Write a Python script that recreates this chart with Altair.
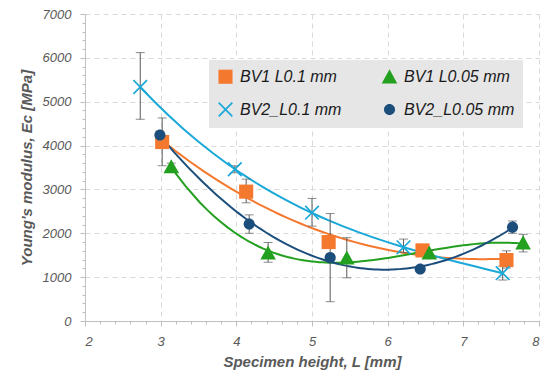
import altair as alt
import pandas as pd

series_names = ["BV1 L0.1 mm", "BV1 L0.05 mm", "BV2_L0.1 mm", "BV2_L0.05 mm"]
legend_order = ["BV1 L0.1 mm", "BV2_L0.1 mm", "BV1 L0.05 mm", "BV2_L0.05 mm"]

# BV1 L0.1 mm
s1_L = [3.02, 4.13, 5.22, 6.46, 7.57]
s1_E = [4080, 2950, 1800, 1610, 1390]
s1_lo = [3540, 2695, 1700, 1540, 1207]
s1_hi = [4630, 3235, 1900, 1680, 1600]
# BV1 L0.05 mm
s2_L = [3.14, 4.42, 5.46, 6.55, 7.79]
s2_E = [3510, 1545, 1430, 1545, 1775]
s2_lo = [3420, 1340, 985, 1470, 1575]
s2_hi = [3600, 1790, 1900, 1620, 1975]
# BV2_L0.1 mm
s3_L = [2.73, 3.98, 5.00, 6.21, 7.52]
s3_E = [5335, 3460, 2470, 1680, 1090]
s3_lo = [4600, 3380, 2164, 1560, 934]
s3_hi = [6120, 3540, 2795, 1868, 1250]
# BV2_L0.05 mm
s4_L = [2.99, 4.17, 5.24, 6.43, 7.65]
s4_E = [4240, 2210, 1445, 1185, 2140]
s4_lo = [4150, 2000, 440, 1130, 2000]
s4_hi = [4330, 2420, 2450, 1240, 2280]

x_ticks = [round(2 + 0.2 * i, 1) for i in range(31)]
y_ticks = [200 * i for i in range(36)]

rows = []
for name, Ls, Es, los, his in [
    (series_names[0], s1_L, s1_E, s1_lo, s1_hi),
    (series_names[1], s2_L, s2_E, s2_lo, s2_hi),
    (series_names[2], s3_L, s3_E, s3_lo, s3_hi),
    (series_names[3], s4_L, s4_E, s4_lo, s4_hi),
]:
    for L, E, lo, hi in zip(Ls, Es, los, his):
        rows.append({"series": name, "L": L, "E": E, "lo": lo, "hi": hi})
df = pd.DataFrame(rows)

color_map = {"BV1 L0.1 mm": "#F5782F", "BV1 L0.05 mm": "#23A01F",
             "BV2_L0.1 mm": "#19A8D8", "BV2_L0.05 mm": "#1C4E7C"}
square_path = "M-0.95,-0.95H0.95V0.95H-0.95Z"
triangle_path = "M0,-1.05L1.05,0.85L-1.05,0.85Z"
cross_path = ("M-1,-0.84L-0.84,-1L0,-0.16L0.84,-1L1,-0.84L0.16,0L1,0.84"
              "L0.84,1L0,0.16L-0.84,1L-1,0.84L-0.16,0Z")
circle_path = "M-0.75,0A0.75,0.75 0 1,0 0.75,0A0.75,0.75 0 1,0 -0.75,0Z"
shape_map = {"BV1 L0.1 mm": square_path, "BV1 L0.05 mm": triangle_path,
             "BV2_L0.1 mm": cross_path, "BV2_L0.05 mm": circle_path}
legend_colors = [color_map[s] for s in legend_order]
legend_shapes = [shape_map[s] for s in legend_order]
line_colors = [color_map[s] for s in series_names]

grid_x = {"condition": {"test": "abs(datum.value - round(datum.value)) < 0.01", "value": 1}, "value": 0}
tick_x = {"condition": {"test": "abs(datum.value - round(datum.value)) < 0.01", "value": 5}, "value": 3}
grid_y = {"condition": {"test": "datum.value % 1000 == 0", "value": 1}, "value": 0}
tick_y = {"condition": {"test": "datum.value % 1000 == 0", "value": 5}, "value": 3}

x_axis = alt.Axis(values=x_ticks, labelExpr="abs(datum.value - round(datum.value)) < 0.01 ? format(datum.value, 'd') : ''",
                  gridOpacity=grid_x, tickSize=tick_x, labelOverlap=False, labelPadding=9,
                  titlePadding=6)
y_axis = alt.Axis(values=y_ticks, labelExpr="datum.value % 1000 == 0 ? format(datum.value, 'd') : ''",
                  gridOpacity=grid_y, tickSize=tick_y, labelOverlap=False, labelPadding=9,
                  titlePadding=8)

x_title = "Specimen height, L [mm]"
y_title = "Young's modulus,  Ec [MPa]"


def xenc(field):
    return alt.X(field, type="quantitative", scale=alt.Scale(domain=[2, 8], nice=False),
                 axis=x_axis, title=x_title)


def yenc(field):
    return alt.Y(field, type="quantitative", scale=alt.Scale(domain=[0, 7000], nice=False),
                 axis=y_axis, title=y_title)


base = alt.Chart(df)

# line scale uses a different domain order so its (hidden) legend is not merged with the points legend
lines = base.transform_regression(
    "L", "E", groupby=["series"], method="poly", order=3
).mark_line(strokeWidth=2).encode(
    x=xenc("L"), y=yenc("E"),
    stroke=alt.Stroke("series:N", scale=alt.Scale(domain=series_names, range=line_colors), legend=None),
)

err_color = "#5a5a5a"
rules = base.mark_rule(color=err_color, strokeWidth=1).encode(
    x=xenc("L"), y=yenc("lo"), y2="hi:Q"
)
cap_hi = base.mark_tick(orient="horizontal", size=9, thickness=1, color=err_color).encode(
    x=xenc("L"), y=yenc("hi")
)
cap_lo = base.mark_tick(orient="horizontal", size=9, thickness=1, color=err_color).encode(
    x=xenc("L"), y=yenc("lo")
)

legend = alt.Legend(title=None, orient="none", legendX=124, legendY=46, columns=2,
                    fillColor="#e6e6e6")

points = base.mark_point(filled=True, opacity=1, size=220).encode(
    x=xenc("L"), y=yenc("E"),
    fill=alt.Fill("series:N", scale=alt.Scale(domain=legend_order, range=legend_colors), legend=legend),
    shape=alt.Shape("series:N", scale=alt.Scale(domain=legend_order, range=legend_shapes), legend=legend),
)

chart = alt.layer(lines, rules, cap_hi, cap_lo, points).properties(
    width=454, height=307,
    padding={"left": 77, "top": 6, "right": 3, "bottom": 57},
    autosize=alt.AutoSizeParams(type="none"),
).configure_view(stroke=None).configure_axis(
    domainColor="#bfbfbf", tickColor="#bfbfbf", gridColor="#d9d9d9", gridDash=[5, 4],
    labelFont="Liberation Sans", labelFontSize=13, labelFontStyle="italic", labelColor="#595959",
    titleFont="Liberation Sans", titleFontSize=15, titleFontStyle="italic", titleFontWeight="bold",
    titleColor="#595959",
).configure_legend(
    padding=8, columnPadding=36, rowPadding=12,
    labelFont="Liberation Sans", labelFontSize=16, labelFontStyle="italic",
    labelColor="#1a1a1a", symbolSize=220, labelOffset=6, symbolOpacity=1,
)

chart.save("out.html", embed_options={"renderer": "svg", "actions": False})
